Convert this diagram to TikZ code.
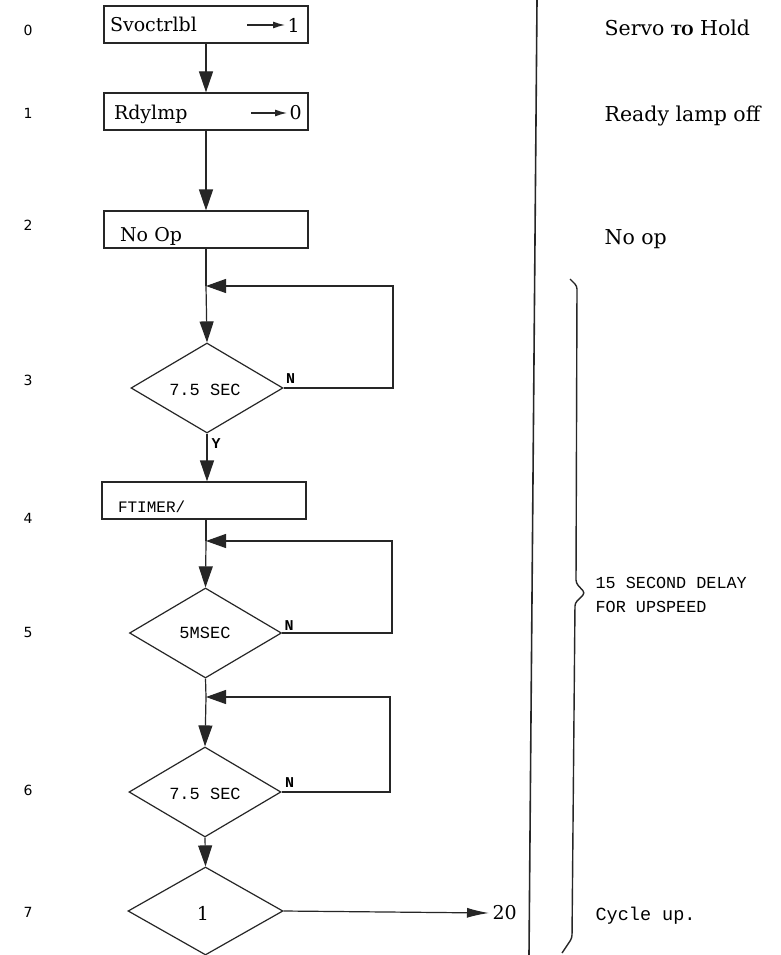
\documentclass[tikz,border=0pt]{standalone}
\usepackage{fontspec}
\setmainfont{DejaVu Serif}
\newfontfamily\monof{Liberation Mono}
\newfontfamily\numf{DejaVu Sans}
\usetikzlibrary{shapes.geometric,arrows.meta,calc}
\begin{document}
\begin{tikzpicture}[x=1pt,y=-1pt,
  line width=1.2pt, draw=black!85,
  procbox/.style={draw, line width=1.2pt, text width=192pt, align=left, inner xsep=6pt, inner ysep=0pt, minimum height=37pt, text height=15pt, text depth=0pt, font=\fontsize{19}{21}\selectfont},
  decbox/.style={draw, diamond, aspect=1.7, inner sep=0pt, minimum width=152pt, minimum height=90pt, line width=1.2pt},
  montxt/.style={font=\monof\fontsize{17}{20}\selectfont},
  sertxt/.style={font=\fontsize{19}{22}\selectfont},
  cmttxt/.style={font=\fontsize{20.5}{24}\selectfont, anchor=west, inner sep=0pt},
  rownum/.style={font=\numf\fontsize{14}{16}\selectfont},
  yn/.style={font=\monof\bfseries\fontsize{15}{17}\selectfont, inner sep=1pt},
  flow/.style={-{Triangle[length=21pt,width=14pt]}, line width=1.2pt},
  back/.style={-{Triangle[length=20pt,width=14pt]}, line width=1.2pt},
  small/.style={-{Latex[length=12pt,width=7pt]}, line width=1.3pt},
]
\useasboundingbox (0,0) rectangle (781,955);
\fill[white] (0,0) rectangle (781,955);

% row numbers
\node[rownum] (r0) at (28,30) {0};
\node[rownum] (r1) at (28,113) {1};
\node[rownum] (r2) at (28,225) {2};
\node[rownum] (r3) at (28,380) {3};
\node[rownum] (r4) at (28,518) {4};
\node[rownum] (r5) at (28,632) {5};
\node[rownum] (r6) at (28,790) {6};
\node[rownum] (r7) at (28,912) {7};

% boxes
\node[procbox] (b0) at (206,24.5) {Svoctrlbl};
\node[procbox, text height=17pt] (b1) at (206,111.5) {\hspace*{4pt}Rdylmp};
\node[procbox, text height=23pt] (b2) at (206,229.5) {\hspace*{10pt}No Op};
\node[procbox, text height=24pt, font=\monof\fontsize{16}{18}\selectfont] (b4) at (204,500.5) {\hspace*{10pt}FTIMER/};

% values inside boxes
\node[sertxt, anchor=west, inner sep=2pt] (v0) at (285,25) {1};
\coordinate (a0) at (247,25);
\draw[small] (a0) -- (v0.west);
\node[sertxt, anchor=west, inner sep=2pt] (v1) at (287,113) {0};
\coordinate (a1) at (251,113);
\draw[small] (a1) -- (v1.west);

% decisions
\node[decbox] (d3) at (207,388) {};
\node[montxt] (t3) at (205,390) {7.5 SEC};
\node[decbox] (d5) at (205.5,633) {};
\node[montxt] (t5) at (205,633) {5MSEC};
\node[decbox] (d6) at (205,792) {};
\node[montxt] (t6) at (205,794) {7.5 SEC};
\node[decbox, minimum width=155pt, minimum height=88pt] (d7) at (205.5,911) {};
\node[sertxt] (t7) at (203,913) {1};

% junctions
\coordinate (j1) at (206,286);
\coordinate (j2) at (206,541);
\coordinate (j3) at (206,697);

% main flow
\draw[flow] (b0.south -| 206,0) -- (b1.north -| 206,0);
\draw[flow] (b1.south -| 206,0) -- (b2.north -| 206,0);
\draw (b2.south -| 206,0) -- (j1);
\draw[flow] (j1) -- (d3.north);
\draw[flow] (d3.south) -- (b4.north -| d3.south);
\draw (b4.south -| 206,0) -- (j2);
\draw[flow] (j2) -- (d5.north);
\draw (d5.south) -- (j3);
\draw[flow] (j3) -- (d6.north);
\draw[flow] (d6.south) -- (d7.north);

% loops
\draw[back] (d3.east) -- (393,388) -- (393,286) -- (j1);
\draw[back] (d5.east) -- (392,633) -- (392,541) -- (j2);
\draw[back] (d6.east) -- (390,792) -- (390,697) -- (j3);

% labels
\node[yn, anchor=south west] (n3) at ($(d3.east)+(1,-3)$) {N};
\node[yn, anchor=south west] (n5) at ($(d5.east)+(1,-1)$) {N};
\node[yn, anchor=south west] (n6) at ($(d6.east)+(2,-3)$) {N};
\node[yn, anchor=north west] (y3) at ($(d3.south)+(3,3)$) {Y};

% exit to 20
\node[sertxt, anchor=west, inner sep=3pt] (n20) at (489,913) {20};
\draw[-{Latex[length=22pt,width=10pt]}, line width=1.2pt] (d7.east) -- (n20.west);

% divider
\coordinate (dtop) at (537,0);
\coordinate (dbot) at (529,955);
\draw[line width=1.6pt] (dtop) -- (dbot);

% brace
\draw[line width=1.4pt, rounded corners=3pt] (570,279) -- (577,286) -- (576,583) -- (585,593) -- (575,603) -- (572,938) -- (562,953);

% right-hand comments
\node[cmttxt] (c0) at (604,28) {Servo {\fontsize{14}{15}\selectfont\bfseries TO} Hold};
\node[cmttxt] (c1) at (604,116) {Ready lamp off};
\node[cmttxt] (c2) at (604,239) {No op};
\node[font=\monof\fontsize{16.8}{24}\selectfont, anchor=west, align=left, inner sep=0pt] (c5) at (595,595) {15 SECOND DELAY\\FOR UPSPEED};
\node[font=\monof\fontsize{18.5}{22}\selectfont, anchor=west, inner sep=0pt] (c7) at (595,916) {Cycle up.};
\end{tikzpicture}
\end{document}
